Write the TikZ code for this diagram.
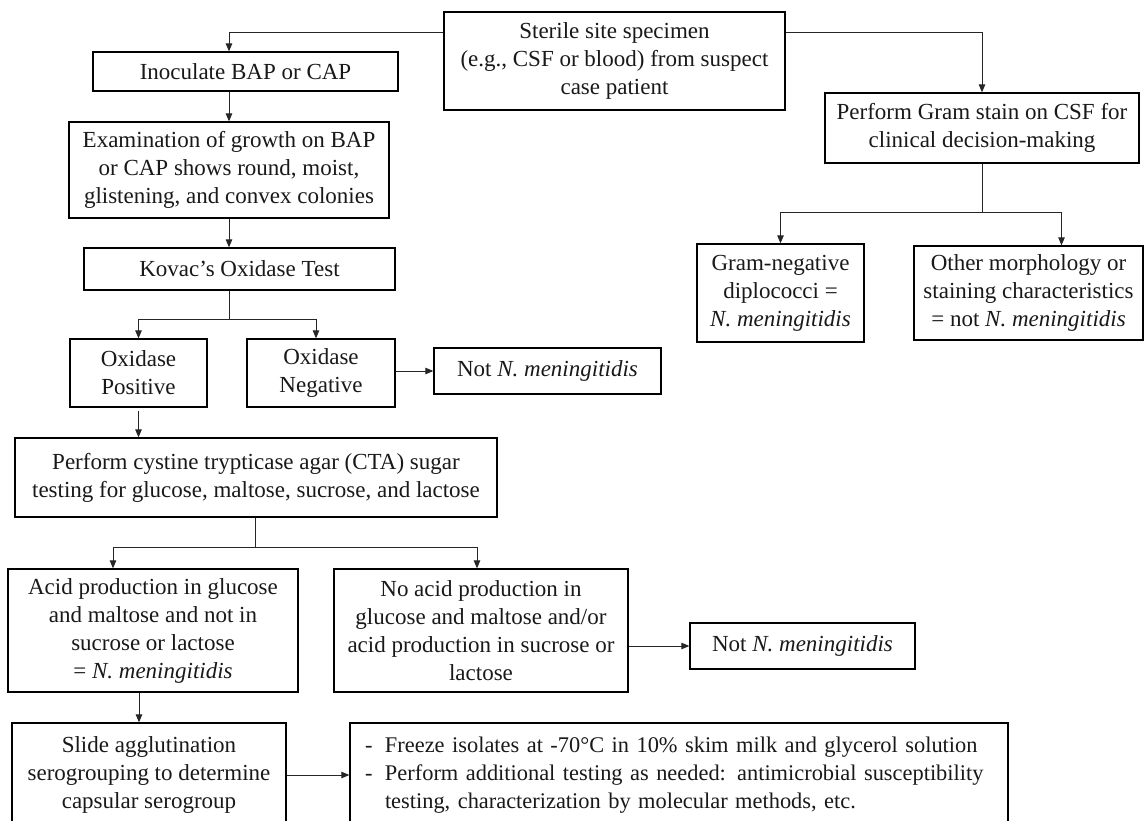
\documentclass[tikz,border=0pt]{standalone}
\usepackage{fontspec}
\setmainfont{Liberation Serif}
\usetikzlibrary{arrows.meta}
\begin{document}
\begin{tikzpicture}[x=1pt,y=-1pt,
  box/.style={draw=black,line width=1.3pt,align=center,inner sep=0pt,
    font=\fontsize{23}{28}\selectfont,text=black!90},
  conn/.style={draw=black!85,line width=1pt},
  arr/.style={conn,-{Triangle[length=8pt,width=6.5pt]}}]
\useasboundingbox[fill=white] (0,0) rectangle (1145,820);
\clip (0,0) rectangle (1145,820);
% nodes
\node[box,minimum width=341pt,minimum height=98pt] (sterile) at (614.5,61)
  {Sterile site specimen\\(e.g., CSF or blood) from suspect\\case patient};
\node[box,minimum width=305pt,minimum height=39pt] (inoc) at (245.5,71.5)
  {Inoculate BAP or CAP};
\node[box,minimum width=320pt,minimum height=96pt] (exam) at (229,170)
  {Examination of growth on BAP\\or CAP shows round, moist,\\glistening, and convex colonies};
\node[box,minimum width=311pt,minimum height=42pt] (kovac) at (239.5,269)
  {Kovac’s Oxidase Test};
\node[box,minimum width=137pt,minimum height=68pt] (pos) at (138.5,373)
  {Oxidase\\Positive};
\node[box,minimum width=148pt,minimum height=68pt] (neg) at (321,373)
  {Oxidase\\Negative};
\node[box,minimum width=227pt,minimum height=46pt] (not1) at (547.5,371)
  {Not \textit{N. meningitidis}};
\node[box,minimum width=482pt,minimum height=79pt] (cta) at (256,477.5)
  {Perform cystine trypticase agar (CTA) sugar\\testing for glucose, maltose, sucrose, and lactose};
\node[box,minimum width=290pt,minimum height=123pt] (acid) at (153,630.5)
  {Acid production in glucose\\and maltose and not in\\sucrose or lactose\\= \textit{N. meningitidis}};
\node[box,minimum width=294pt,minimum height=123pt] (noacid) at (481,630.5)
  {No acid production in\\glucose and maltose and/or\\acid production in sucrose or\\lactose};
\node[box,minimum width=225pt,minimum height=46pt] (not2) at (802.5,646)
  {Not \textit{N. meningitidis}};
\node[box,minimum width=274pt,minimum height=104pt] (slide) at (149,775)
  {Slide agglutination\\serogrouping to determine\\capsular serogroup};
\node[box,align=left,inner xsep=15pt,text width=628pt,minimum height=104pt,
      font=\fontsize{22.4}{28}\selectfont] (freeze) at (679,775)
  {\mbox{\makebox[20pt][l]{-}Freeze isolates at -70°C in 10\% skim milk and glycerol solution}\\
   \mbox{\makebox[20pt][l]{-}Perform additional testing as needed: antimicrobial susceptibility}\\
   \mbox{\hspace*{20pt}testing, characterization by molecular methods, etc.}};
\node[box,minimum width=314pt,minimum height=70pt] (gram) at (982,128)
  {Perform Gram stain on CSF for\\clinical decision-making};
\node[box,minimum width=167pt,minimum height=98pt] (gneg) at (780.5,293)
  {Gram-negative\\diplococci =\\\textit{N. meningitidis}};
\node[box,minimum width=229pt,minimum height=94pt] (other) at (1028.5,293)
  {Other morphology or\\staining characteristics\\= not \textit{N. meningitidis}};
% connectors
\draw[arr] ([yshift=-21pt]sterile.north west) -| (exam.north |- inoc.north);
\draw[arr] (exam.north |- inoc.south) -- (exam.north);
\draw[arr] (exam.south) -- (exam.south |- kovac.north);
\draw[conn] (exam.south |- kovac.south) -- ++(0,29) coordinate (k1);
\draw[arr] (k1) -| (pos.north);
\draw[arr] (k1) -| ([xshift=-5pt]neg.north);
\draw[arr] (neg.east |- not1.west) -- (not1.west);
\draw[arr] ([yshift=-3pt]pos.south) -- (pos.south |- cta.north);
\draw[conn] ([xshift=-1pt]cta.south) -- ++(0,30) coordinate (c1);
\draw[arr] (c1) -| ([xshift=-40pt]acid.north);
\draw[arr] (c1) -| ([xshift=-4pt]noacid.north);
\draw[arr] (noacid.east |- not2.west) -- (not2.west);
\draw[arr] ([xshift=-14pt]acid.south) -- ([xshift=-14pt]acid.south |- slide.north);
\draw[arr] (slide.east) -- (freeze.west);
\draw[arr] ([yshift=-21pt]sterile.north east) -| (gram.north);
\draw[conn] (gram.south) -- ++(0,49) coordinate (g1);
\draw[arr] (g1) -| (gneg.north);
\draw[arr] (g1) -| ([xshift=33pt]other.north);
\end{tikzpicture}
\end{document}
